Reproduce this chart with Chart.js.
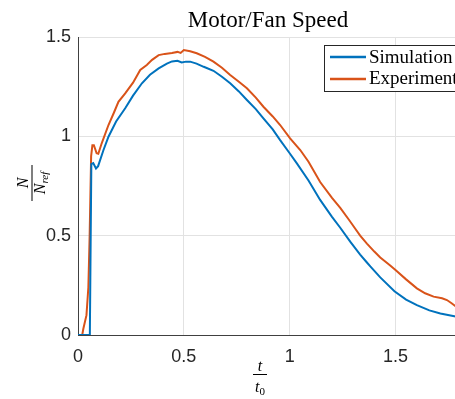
<!DOCTYPE html>
<html><head><meta charset="utf-8">
<script src="https://cdn.jsdelivr.net/npm/chart.js@4"></script>
<style>
html,body{margin:0;padding:0;background:#fff;overflow:hidden;width:455px;height:399px}
#wrap{width:459px;height:399px;position:relative}
canvas{display:block}
</style></head>
<body><div id="wrap"><canvas id="c" width="459" height="399" style="width:459px;height:399px"></canvas></div>
<script>
const titleText = "Motor/Fan Speed";
const seriesNames = ["Simulation", "Experiment"];
const xTicks = [0, 0.5, 1, 1.5];
const yTicks = [0, 0.5, 1, 1.5];
const xRange = [0, 1.8];
const yRange = [0, 1.5];

const simT = [0, 0.056, 0.06, 0.063, 0.072, 0.085, 0.095, 0.12, 0.144, 0.18, 0.223, 0.26, 0.302, 0.34, 0.381, 0.42, 0.444, 0.47, 0.49, 0.51, 0.53, 0.56, 0.594, 0.64, 0.68, 0.719, 0.76, 0.798, 0.84, 0.876, 0.92, 0.955, 1.0, 1.034, 1.089, 1.144, 1.2, 1.239, 1.286, 1.333, 1.365, 1.381, 1.428, 1.495, 1.55, 1.601, 1.66, 1.712, 1.79];
const simN = [0, 0, 0.5, 0.86, 0.865, 0.838, 0.85, 0.93, 0.998, 1.075, 1.141, 1.205, 1.267, 1.31, 1.342, 1.366, 1.377, 1.38, 1.372, 1.376, 1.376, 1.366, 1.35, 1.33, 1.3, 1.267, 1.226, 1.183, 1.137, 1.09, 1.035, 0.981, 0.915, 0.864, 0.778, 0.68, 0.595, 0.54, 0.47, 0.405, 0.365, 0.345, 0.29, 0.22, 0.178, 0.15, 0.124, 0.108, 0.092];

const expT = [0, 0.02, 0.025, 0.04, 0.049, 0.055, 0.062, 0.068, 0.075, 0.088, 0.096, 0.112, 0.144, 0.17, 0.191, 0.223, 0.26, 0.294, 0.325, 0.35, 0.381, 0.41, 0.444, 0.47, 0.485, 0.5, 0.53, 0.561, 0.6, 0.64, 0.68, 0.719, 0.76, 0.798, 0.84, 0.876, 0.92, 0.955, 1.002, 1.05, 1.089, 1.144, 1.2, 1.239, 1.28, 1.31, 1.333, 1.365, 1.4, 1.428, 1.475, 1.5, 1.55, 1.601, 1.64, 1.68, 1.72, 1.743, 1.765, 1.79];
const expN = [0, 0, 0.03, 0.1, 0.24, 0.5, 0.9, 0.955, 0.955, 0.915, 0.912, 0.965, 1.057, 1.12, 1.174, 1.216, 1.27, 1.334, 1.359, 1.385, 1.409, 1.415, 1.42, 1.425, 1.42, 1.434, 1.428, 1.418, 1.4, 1.376, 1.345, 1.309, 1.275, 1.242, 1.195, 1.149, 1.1, 1.057, 0.99, 0.931, 0.872, 0.77, 0.69, 0.64, 0.58, 0.535, 0.5, 0.46, 0.42, 0.39, 0.35, 0.327, 0.28, 0.235, 0.21, 0.193, 0.185, 0.176, 0.16, 0.14];

const colors = ["#0072BD", "#D95319"];
const textColor = "#262626";
const serif = "'Liberation Serif', 'Times New Roman', serif";
const sans = "'Liberation Sans', Arial, Helvetica, sans-serif";

function pts(xs, ys) { return xs.map((x, i) => ({ x: x, y: ys[i] })); }

const decor = {
  id: 'decor',
  afterDraw(chart) {
    const ctx = chart.ctx;
    ctx.save();
    ctx.fillStyle = "#000";
    // title
    ctx.font = "23px " + serif;
    ctx.textAlign = "center";
    ctx.textBaseline = "alphabetic";
    ctx.fillText(titleText, 268, 27);

    // legend box
    const lx = 324, ly = 45, lw = 140, lh = 46;
    ctx.fillStyle = "#fff";
    ctx.fillRect(lx, ly, lw, lh);
    ctx.strokeStyle = "#262626";
    ctx.lineWidth = 1;
    ctx.strokeRect(lx + 0.5, ly + 0.5, lw, lh);
    const rows = [57, 79];
    const bases = [63, 84];
    ctx.font = "19px " + serif;
    ctx.textAlign = "left";
    for (let i = 0; i < seriesNames.length; i++) {
      ctx.strokeStyle = colors[i];
      ctx.lineWidth = 2.5;
      ctx.beginPath();
      ctx.moveTo(330, rows[i]);
      ctx.lineTo(366, rows[i]);
      ctx.stroke();
      ctx.fillStyle = "#000";
      ctx.fillText(seriesNames[i], 369, bases[i]);
    }

    // x label: t / t0
    ctx.fillStyle = "#000";
    ctx.font = "italic 16px " + serif;
    ctx.textAlign = "center";
    ctx.fillText("t", 260, 371);
    ctx.fillRect(253, 374, 14, 1);
    const wt = ctx.measureText("t").width;
    ctx.font = "11px " + serif;
    const w0 = ctx.measureText("0").width;
    const sx = 260 - (wt + w0) / 2;
    ctx.textAlign = "left";
    ctx.font = "italic 16px " + serif;
    ctx.fillText("t", sx, 392);
    ctx.font = "11px " + serif;
    ctx.fillText("0", sx + wt, 395);

    // y label: N / N_ref (rotated)
    ctx.save();
    ctx.translate(32, 183);
    ctx.rotate(-Math.PI / 2);
    ctx.font = "italic 16px " + serif;
    ctx.textAlign = "center";
    ctx.fillText("N", 0, -4);
    ctx.fillRect(-18, -0.5, 36, 1);
    const wN = ctx.measureText("N").width;
    ctx.font = "italic 11px " + serif;
    const wR = ctx.measureText("ref").width;
    const st = -(wN + wR) / 2;
    ctx.textAlign = "left";
    ctx.font = "italic 16px " + serif;
    ctx.fillText("N", st, 13);
    ctx.font = "italic 11px " + serif;
    ctx.fillText("ref", st + wN, 16);
    ctx.restore();

    ctx.restore();
  }
};

new Chart(document.getElementById('c'), {
  type: 'line',
  data: {
    datasets: [
      { label: seriesNames[0], data: pts(simT, simN), borderColor: colors[0], backgroundColor: colors[0], borderWidth: 2, pointRadius: 0, tension: 0, fill: false },
      { label: seriesNames[1], data: pts(expT, expN), borderColor: colors[1], backgroundColor: colors[1], borderWidth: 2, pointRadius: 0, tension: 0, fill: false }
    ]
  },
  options: {
    responsive: false,
    animation: false,
    devicePixelRatio: 1,
    layout: { padding: { top: 37, right: 0, bottom: 0, left: 0 } },
    plugins: { legend: { display: false }, title: { display: false }, tooltip: { enabled: false } },
    scales: {
      x: {
        type: 'linear', min: xRange[0], max: xRange[1],
        afterBuildTicks: (s) => { s.ticks = xTicks.map(v => ({ value: v })); },
        afterFit: (s) => { s.height = 64; },
        grid: { color: "#e2e2e2", lineWidth: 1, drawTicks: false },
        border: { color: "#404040", width: 1 },
        ticks: { color: textColor, font: { family: sans, size: 18 }, padding: 11, maxRotation: 0,
                 callback: (v) => String(v) }
      },
      y: {
        type: 'linear', min: yRange[0], max: yRange[1],
        afterBuildTicks: (s) => { s.ticks = yTicks.map(v => ({ value: v })); },
        afterFit: (s) => { s.width = 78; },
        grid: { color: "#e2e2e2", lineWidth: 1, drawTicks: false },
        border: { color: "#404040", width: 1 },
        ticks: { color: textColor, font: { family: sans, size: 18 }, padding: 7,
                 callback: (v) => String(v) }
      }
    }
  },
  plugins: [decor]
});
</script>
</body></html>
